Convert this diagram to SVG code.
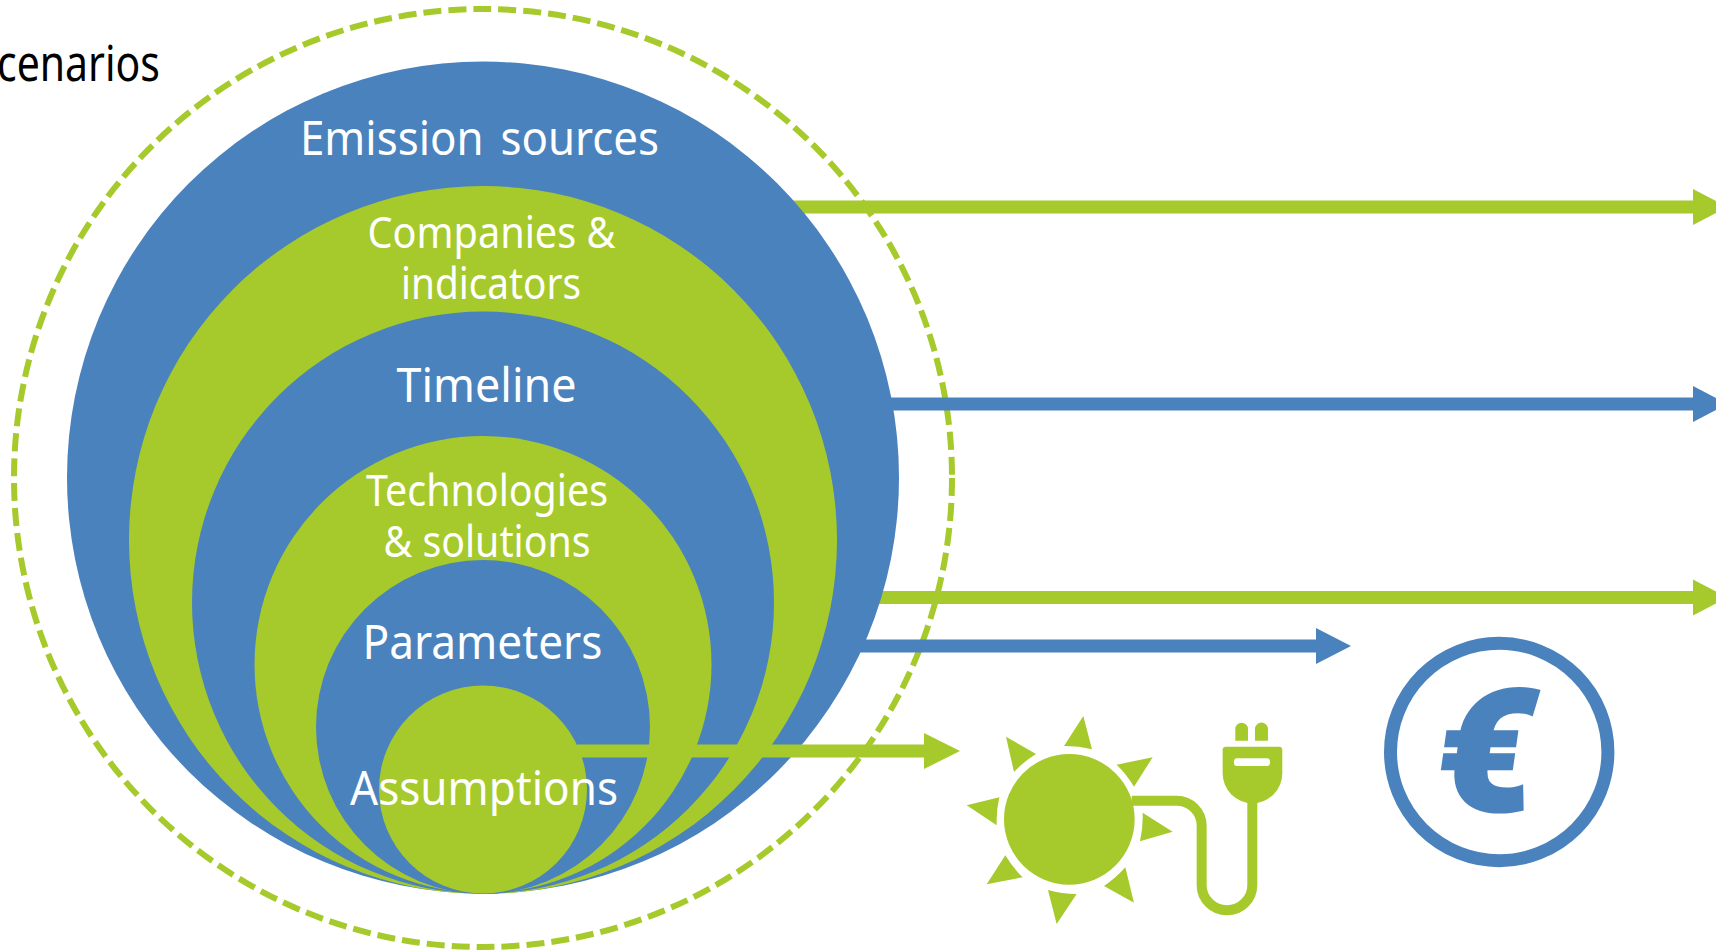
<svg xmlns="http://www.w3.org/2000/svg" width="1716" height="951" viewBox="0 0 1716 951">
<style>
.b{fill:#4a82bd}.g{fill:#a6ca2b}
.lg{stroke:#a6ca2b;stroke-width:13;fill:none}.lb{stroke:#4a82bd;stroke-width:13;fill:none}
text{font-family:"Noto Sans","DejaVu Sans",sans-serif;fill:#fff;text-anchor:middle}
.t1{font-size:48px}.t2{font-size:44px}
</style>
<rect width="1716" height="951" fill="#fff"/>
<text id="scenarios" x="-3" y="81" lengthAdjust="spacingAndGlyphs" textLength="163" style="fill:#000;text-anchor:start;font-size:49px">cenarios</text>
<circle id="boundary" cx="483" cy="478" r="469" fill="none" stroke="#a6ca2b" stroke-width="6" stroke-dasharray="18 7"/>
<g id="connectors">
<path class="lg" d="M780 207H1695"/><path class="g" d="M1693 189L1716 201V213L1693 225Z"/>
<path class="lb" d="M880 404H1695"/><path class="b" d="M1693 386L1716 398V410L1693 422Z"/>
<path class="lg" d="M860 597.500H1695"/><path class="g" d="M1693 579.500L1716 591.500V603.500L1693 615.500Z"/>
<path class="lb" d="M840 646H1318"/><path class="b" d="M1316 628L1351 646L1316 664Z"/>
</g>
<g id="emission-sources"><circle class="b" cx="483" cy="477.500" r="416"/></g>
<g id="companies"><circle class="g" cx="483" cy="540" r="354"/></g>
<g id="timeline"><circle class="b" cx="483" cy="602.500" r="291"/></g>
<g id="technologies"><circle class="g" cx="483" cy="664.500" r="228.500"/></g>
<g id="parameters"><circle class="b" cx="483" cy="727" r="167"/></g>
<g id="assumptions"><circle class="g" cx="483" cy="789.500" r="104"/></g>
<g id="assumptions-arrow"><path class="lg" d="M577 751H926"/><path class="g" d="M924 733L960 751L924 769Z"/></g>
<g id="labels">
<text class="t1" x="479.500" y="155" lengthAdjust="spacingAndGlyphs" textLength="359" word-spacing="6">Emission sources</text>
<text class="t2" x="491.500" y="248" lengthAdjust="spacingAndGlyphs" textLength="248">Companies &amp;</text>
<text class="t2" x="491" y="298.500" lengthAdjust="spacingAndGlyphs" textLength="180">indicators</text>
<text class="t1" x="486.500" y="402" lengthAdjust="spacingAndGlyphs" textLength="180">Timeline</text>
<text class="t2" x="487" y="506" lengthAdjust="spacingAndGlyphs" textLength="242">Technologies</text>
<text class="t2" x="487" y="557" lengthAdjust="spacingAndGlyphs" textLength="207">&amp; solutions</text>
<text class="t1" x="482.500" y="659" lengthAdjust="spacingAndGlyphs" textLength="240">Parameters</text>
<text class="t1" x="484" y="805" lengthAdjust="spacingAndGlyphs" textLength="268">Assumptions</text>
</g>
<g id="sun" transform="translate(940 690) scale(.3333)">
<circle class="g" cx="388" cy="388" r="196"/>
<path class="g" d="M430 78L372 168A320 320 0 0 1 456 178ZM638 202L530 224A320 320 0 0 1 582 290ZM698 425L608 368A320 320 0 0 1 600 454ZM582 638L556 532A320 320 0 0 1 492 588ZM350 702L410 612A320 320 0 0 1 324 600ZM140 583L248 562A320 320 0 0 1 196 496ZM80 346L170 406A320 320 0 0 1 178 322ZM198 140L222 246A320 320 0 0 1 288 192Z"/>
<path d="M575 332H710A75 75 0 0 1 785 407V585A76 76 0 0 0 937 585V320" fill="none" stroke="#a6ca2b" stroke-width="30"/>
<path class="g" d="M858 170H1017Q1027 170 1027 180V250A89 89 0 0 1 848 250V180Q848 170 858 170Z"/>
<path class="g" d="M886 152V117A19 19 0 0 1 924 117V152ZM945 152V117A19 19 0 0 1 984 117V152Z"/>
<rect x="882" y="205" width="108" height="23" rx="9" fill="#fff"/>
</g>
<g id="euro">
<circle cx="1499.200" cy="752" r="108.700" fill="none" stroke="#4a82bd" stroke-width="13"/>
<text transform="translate(1479 810) skewX(-8)" x="0" y="0" style="fill:#4a82bd;stroke:#4a82bd;stroke-width:4;font-family:Roboto,sans-serif;font-weight:900;font-size:168px">€</text>
</g>
</svg>
